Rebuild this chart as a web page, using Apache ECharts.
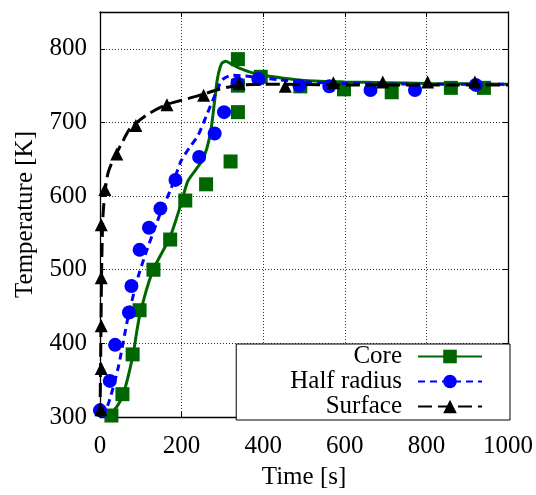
<!DOCTYPE html>
<html>
<head>
<meta charset="utf-8">
<script src="https://cdn.jsdelivr.net/npm/echarts@6/dist/echarts.min.js"></script>
<style>
html,body{margin:0;padding:0;background:#fff;}
#chart{width:536px;height:495px;}
</style>
</head>
<body>
<div id="chart"></div>
<script>
// ---- Data ----
var seriesNames = ['Core', 'Half radius', 'Surface'];
var xTicks = [0, 200, 400, 600, 800, 1000];
var yTicks = [300, 400, 500, 600, 700, 800];

// Measured points (markers)
var coreExpTime = [28, 55, 80, 97, 131, 172, 209, 260, 320, 338, 338, 338, 394, 491, 598, 715, 860, 941];
var coreExpTemp = [302, 331, 385, 445, 500, 541, 594, 616, 647, 714, 750, 786, 762, 749, 745, 741, 747, 747];

var halfExpTime = [0, 24, 37, 71, 77, 97, 120, 148, 185, 243, 281, 304, 337, 388, 489, 562, 663, 772, 921];
var halfExpTemp = [309, 349, 398, 442, 478, 527, 557, 583, 622, 653, 685, 714, 753, 759, 750, 749, 744, 744, 751];

var surfExpTime = [2, 3, 3, 3, 3, 12, 41, 88, 164, 254, 341, 454, 572, 693, 803, 919];
var surfExpTemp = [310, 366, 424, 489, 561, 609, 657, 696, 724, 737, 753, 749, 754, 755, 755, 755];

// Simulated curves (lines)
var coreSimTime = [20, 40, 57, 80, 97, 129, 172, 200, 215, 235, 250, 262, 272, 280, 288, 298, 308, 320, 340, 370, 400, 450, 500, 600, 700, 800, 1000];
var coreSimTemp = [300, 313, 331, 382, 437, 498, 545, 592, 620, 636, 648, 665, 690, 725, 760, 780, 783, 780, 774, 768, 764, 760, 757, 755, 754, 753, 752];

var halfSimTime = [8, 24, 45, 69, 97, 146, 174, 199, 222, 240, 260, 284, 300, 324, 357, 438, 511, 600, 800, 1000];
var halfSimTemp = [300, 324, 368, 436, 497, 574, 610, 648, 668, 682, 708, 740, 758, 764, 763, 758, 755, 753, 752, 752];

var surfSimTime = [0, 2, 4, 7, 12, 20, 36, 50, 73, 114, 162, 219, 251, 292, 333, 400, 600, 800, 1000];
var surfSimTemp = [300, 400, 500, 570, 605, 632, 654, 668, 691, 710, 724, 733, 738, 745, 750, 752, 751, 751, 751];

function pairs(xs, ys) { return xs.map(function (x, i) { return [x, ys[i]]; }); }

var FONT = 'Liberation Serif';
var colors = ['#006600', '#0000ff', '#000000'];
var symbols = ['rect', 'circle', 'triangle'];
var dashes = ['solid', [7, 5], [14, 6]];
var simX = [coreSimTime, halfSimTime, surfSimTime];
var simY = [coreSimTemp, halfSimTemp, surfSimTemp];
var expX = [coreExpTime, halfExpTime, surfExpTime];
var expY = [coreExpTemp, halfExpTemp, surfExpTemp];
var symSizes = [14, 14, 13];

var series = [];
for (var i = 0; i < 3; i++) {
  series.push({
    name: seriesNames[i], type: 'line', data: pairs(simX[i], simY[i]),
    showSymbol: false, symbol: symbols[i], smooth: 0.25,
    lineStyle: { color: colors[i], width: 3, type: dashes[i] },
    itemStyle: { color: colors[i] }, animation: false, z: 2 + i * 2
  });
  series.push({
    name: seriesNames[i], type: 'scatter', data: pairs(expX[i], expY[i]),
    symbol: symbols[i], symbolSize: symSizes[i],
    itemStyle: { color: colors[i], opacity: 1 }, animation: false, z: 3 + i * 2
  });
}

var axisLineStyle = { color: '#000', width: 1.3 };
var gridLine = { show: true, lineStyle: { color: '#333', width: 1, type: [1, 2] } };

var chart = echarts.init(document.getElementById('chart'), null, { renderer: 'canvas' });
chart.setOption({
  animation: false,
  backgroundColor: '#fff',
  grid: { left: 100, right: 25, top: 12, bottom: 74, containLabel: false },
  legend: {
    data: seriesNames, orient: 'vertical', align: 'right',
    right: 26, bottom: 75,
    itemWidth: 64, itemHeight: 17, itemGap: 0,
    textStyle: { fontFamily: FONT, fontSize: 25, color: '#000', lineHeight: 24, padding: [0, 11, 0, 0] },
    borderColor: '#000', borderWidth: 1, borderRadius: 0, backgroundColor: '#fff',
    padding: [0, 27, 1, 54]
  },
  xAxis: [{
    type: 'value', min: 0, max: 1000, interval: 200, position: 'bottom',
    name: 'Time [s]', nameLocation: 'middle', nameGap: 48,
    nameTextStyle: { fontFamily: FONT, fontSize: 25, color: '#000' },
    axisLine: { show: true, onZero: false, lineStyle: axisLineStyle },
    axisTick: { show: true, inside: true, length: 5, lineStyle: { color: '#000' } },
    axisLabel: { fontFamily: FONT, fontSize: 25, color: '#000', margin: 17,
      formatter: function (v) { return xTicks.indexOf(v) >= 0 ? String(v) : ''; } },
    splitLine: gridLine
  }, {
    type: 'value', min: 0, max: 1000, interval: 200, position: 'top',
    axisLine: { show: true, onZero: false, lineStyle: axisLineStyle },
    axisTick: { show: true, inside: true, length: 5, lineStyle: { color: '#000' } },
    axisLabel: { show: false }, splitLine: { show: false }
  }],
  yAxis: [{
    type: 'value', min: 300, max: 850, interval: 100, position: 'left',
    name: 'Temperature [K]', nameLocation: 'middle', nameGap: 62, nameRotate: 90,
    nameTextStyle: { fontFamily: FONT, fontSize: 25, color: '#000' },
    axisLine: { show: true, onZero: false, lineStyle: axisLineStyle },
    axisTick: { show: true, inside: true, length: 5, lineStyle: { color: '#000' } },
    axisLabel: { fontFamily: FONT, fontSize: 25, color: '#000', margin: 13, showMaxLabel: false,
      formatter: function (v) { return yTicks.indexOf(v) >= 0 ? String(v) : ''; } },
    splitLine: gridLine
  }, {
    type: 'value', min: 300, max: 850, interval: 100, position: 'right',
    axisLine: { show: true, onZero: false, lineStyle: axisLineStyle },
    axisTick: { show: true, inside: true, length: 5, lineStyle: { color: '#000' } },
    axisLabel: { show: false }, splitLine: { show: false }
  }],
  series: series
});
</script>
</body>
</html>
